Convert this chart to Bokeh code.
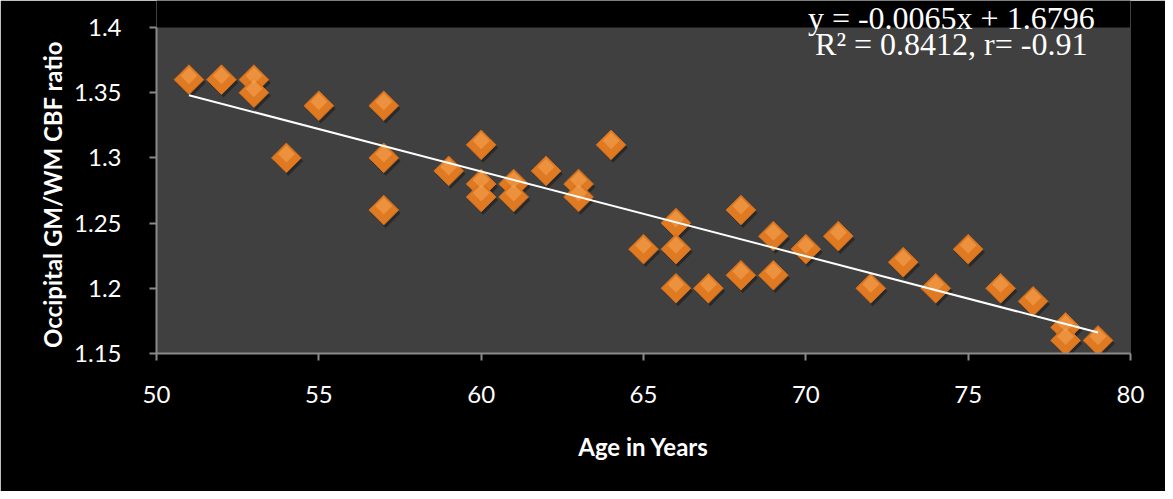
import numpy as np
from bokeh.plotting import figure
from bokeh.models import Range1d, FixedTicker, Label, ColumnDataSource, BoxAnnotation
from bokeh.embed import file_html
from bokeh.resources import INLINE

# ---- data ----
age = [51, 52, 53, 53, 54, 55, 57, 57, 57, 59, 60, 60, 60, 61, 61, 62, 63, 63, 64, 65,
       66, 66, 66, 67, 68, 68, 69, 69, 70, 71, 72, 73, 74, 75, 76, 77, 78, 78, 79]
ratio = [1.36, 1.36, 1.36, 1.35, 1.30, 1.34, 1.34, 1.30, 1.26, 1.29, 1.31, 1.28, 1.27,
         1.28, 1.27, 1.29, 1.28, 1.27, 1.31, 1.23, 1.25, 1.23, 1.20, 1.20, 1.26, 1.21,
         1.24, 1.21, 1.23, 1.24, 1.20, 1.22, 1.20, 1.23, 1.20, 1.19, 1.17, 1.16, 1.16]
slope = -0.0065
intercept = 1.6796
x_ticks = [50, 55, 60, 65, 70, 75, 80]
y_ticks = [1.15, 1.2, 1.25, 1.3, 1.35, 1.4]
y_tick_labels = ["1.15", "1.2", "1.25", "1.3", "1.35", "1.4"]
eq_lines = ["y = -0.0065x + 1.6796", "R\u00b2 = 0.8412, r= -0.91"]
x_title = "Age in Years"
y_title = "Occipital GM/WM CBF ratio"

X_MIN, X_MAX = x_ticks[0], x_ticks[-1]
Y_MIN, Y_MAX = y_ticks[0], y_ticks[-1]
PX_Y = 1304.0          # pixels per y unit
PX_X = 974.0 / 30.0    # pixels per x unit
TOP_PAD = 27 / PX_Y    # black band above the plot area, inside the frame

p = figure(width=1165, height=491, output_backend="svg", toolbar_location=None,
           x_range=Range1d(X_MIN, X_MAX), y_range=Range1d(Y_MIN, Y_MAX + TOP_PAD),
           min_border_left=156, min_border_right=35, min_border_top=0, min_border_bottom=138)
p.background_fill_color = "#000000"
p.border_fill_color = "#000000"
p.outline_line_color = None
p.xgrid.grid_line_color = None
p.ygrid.grid_line_color = None

p.add_layout(BoxAnnotation(left=X_MIN, right=X_MAX, bottom=Y_MIN, top=Y_MAX,
                           fill_color="#404040", fill_alpha=1.0, line_color=None,
                           level="underlay"))

for ax in (p.xaxis[0], p.yaxis[0]):
    ax.axis_line_color = "#8a8a8a"
    ax.axis_line_width = 2
    ax.major_tick_line_color = "#8a8a8a"
    ax.major_tick_line_width = 2
    ax.major_tick_in = 0
    ax.major_tick_out = 7
    ax.minor_tick_line_color = None
    ax.major_label_text_color = "#ffffff"
    ax.major_label_text_font = "Lato"
    ax.major_label_text_font_size = "24px"
    ax.axis_label_text_color = "#ffffff"
    ax.axis_label_text_font = "Lato"
    ax.axis_label_text_font_style = "bold"
    ax.axis_label_text_font_size = "24px"

p.xaxis.ticker = FixedTicker(ticks=x_ticks)
p.yaxis.ticker = FixedTicker(ticks=y_ticks)
p.yaxis.bounds = (Y_MIN, Y_MAX)
p.yaxis.major_label_overrides = {t: s for t, s in zip(y_ticks, y_tick_labels)}
p.xaxis.major_label_standoff = 25
p.yaxis.major_label_standoff = 28
p.xaxis.axis_label = x_title
p.yaxis.axis_label = y_title + "\u00a0" * 6
p.xaxis.axis_label_standoff = 26
p.yaxis.axis_label_standoff = 4

dx = 2 / PX_X
dy = 3 / PX_Y
shadow = ColumnDataSource(dict(x=[a + dx for a in age], y=[r - dy for r in ratio]))
src = ColumnDataSource(dict(x=age, y=ratio))
hi = ColumnDataSource(dict(x=age, y=[r + 4 / PX_Y for r in ratio]))
p.scatter("x", "y", source=shadow, marker="square", angle=np.pi / 4, size=21,
          fill_color="#000000", fill_alpha=0.35, line_color=None)
p.scatter("x", "y", source=src, marker="square", angle=np.pi / 4, size=21,
          fill_color="#E07A22", line_color="#D06E1C", line_width=1)
p.scatter("x", "y", source=hi, marker="square", angle=np.pi / 4, size=12,
          fill_color="#F5A453", line_color=None, fill_alpha=0.55)

xs = [min(age), max(age)]
ys = [slope * v + intercept for v in xs]
p.line(xs, ys, line_color="#ffffff", line_width=2)

for i, txt in enumerate(eq_lines):
    p.add_layout(Label(x=74.48, y=Y_MAX + 9.5 / PX_Y - i * 26 / PX_Y,
                       text=txt, text_align="center",
                       text_baseline="alphabetic", text_color="#ffffff",
                       text_font="Liberation Serif", text_font_size="32px"))

open("out.html", "w").write(file_html(p, INLINE))
